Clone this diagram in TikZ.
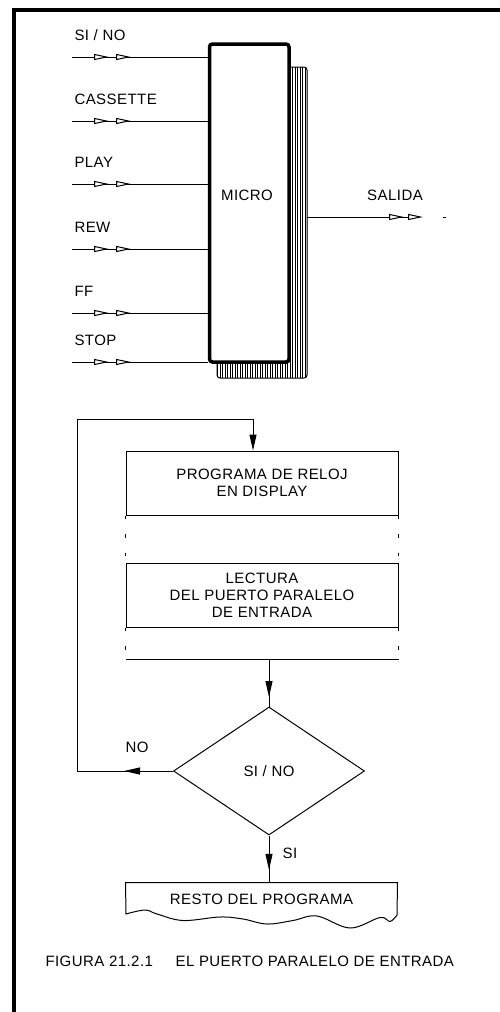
\documentclass[tikz,border=0pt]{standalone}
\usepackage{fontspec}
\setmainfont[LetterSpace=3]{Liberation Sans}
\usetikzlibrary{arrows.meta, shapes.geometric, patterns.meta, decorations.markings}

\tikzset{
  hueca/.tip={Triangle[fill=white, length=15pt, width=6pt, sep=4pt]},
  texto/.style={font=\fontsize{15}{17}\selectfont, inner sep=0pt},
  caja/.style={draw, texto, align=center, minimum width=272pt, minimum height=64pt},
  entrada/.style={postaction={decorate, decoration={markings,
      mark=at position 41pt with {\arrow{hueca}},
      mark=at position 63pt with {\arrow{hueca}}}}},
  flecha/.style={postaction={decorate, decoration={markings,
      mark=at position #1 with {\arrow{>}}}}}
}

\begin{document}
\begin{tikzpicture}[x=1pt, y=-1pt, >={Triangle[length=16pt, width=7pt]}, line width=1pt]
    \useasboundingbox (0,0) rectangle (499,1012);
    % Marco
    \draw[line width=4pt] (14,1020) -- (14,9.5) -- (510,9.5);
    % Bloque MICRO con sombra rayada
    \node[draw, rounded corners=3pt, minimum width=90pt, minimum height=311pt,
          pattern={Lines[angle=90, distance=2.5pt, line width=0.6pt]}] (sombra) at (262,222.5) {};
    \node[draw, line width=3.5pt, rounded corners=3pt, fill=white,
          minimum width=79.5pt, minimum height=318pt] (micro) at (249.25,203) {};
    \node[texto] (tmicro) at (247,195) {MICRO};
    % Entradas
    \foreach \t/\y [count=\i] in {{SI / NO}/57, CASSETTE/121, PLAY/184, REW/249, FF/313, STOP/362} {
        \coordinate (in\i) at (72,\y);
        \node[texto, anchor=west] (et\i) at (74,\y-22) {\t};
        \draw[entrada] (in\i) -- (in\i -| micro.west);
    }
    % Salida
    \coordinate (sal) at (427,217);
    \node[texto] (tsal) at (395,195) {SALIDA};
    \draw[-{hueca[]hueca[]}] (sombra.east |- sal) -- (sal);
    \draw (sal) ++(16,0) -- ++(3,0);

    % Diagrama de flujo
    \node[caja] (reloj) at (262,483) {PROGRAMA DE RELOJ\\EN DISPLAY};
    \node[caja] (lectura) at (262,595) {LECTURA\\DEL PUERTO PARALELO\\DE ENTRADA};
    \coordinate (fin) at (262,659);
    \draw[dash pattern=on 3.5pt off 15pt] (reloj.south west) -- (lectura.north west)
        (reloj.south east) -- (lectura.north east)
        (lectura.south west) -- (lectura.south west |- fin)
        (lectura.south east) -- (lectura.south east |- fin);
    \draw (lectura.south west |- fin) -- (lectura.south east |- fin);
    \node[draw, diamond, texto, minimum width=191pt, minimum height=128pt] (dec) at (269,771) {SI / NO};
    \draw[flecha=0.8] (dec.north |- fin) -- (dec.north);
    % Lazo NO
    \coordinate (izq) at (77,771);
    \coordinate (entra) at (253,419);
    \draw[->, flecha=49pt] (dec.west) -- (izq) |- (entra) -- (entra |- reloj.north);
    \node[texto] (tno) at (137,747) {NO};
    % Salida SI
    \node[texto, minimum width=271pt, minimum height=32pt] (resto) at (261.5,899) {RESTO DEL PROGRAMA};
    \draw[flecha=0.73] (dec.south) -- (dec.south |- resto.north);
    \node[texto] (tsi) at (290,853) {SI};
    \draw (resto.north west) -- plot[smooth, tension=0.6] coordinates {(126,914) (145,910) (157,914)
        (183,920.5) (220,917) (243,919) (267,924) (293,920.5) (317,916) (350,928) (380,917.5)
        (390,921.5) (397,915)} -- (resto.north east) -- cycle;
    % Pie
    \node[texto, anchor=west] (pie) at (45,961) {FIGURA 21.2.1\hspace{18pt} EL PUERTO PARALELO DE ENTRADA};
\end{tikzpicture}
\end{document}
